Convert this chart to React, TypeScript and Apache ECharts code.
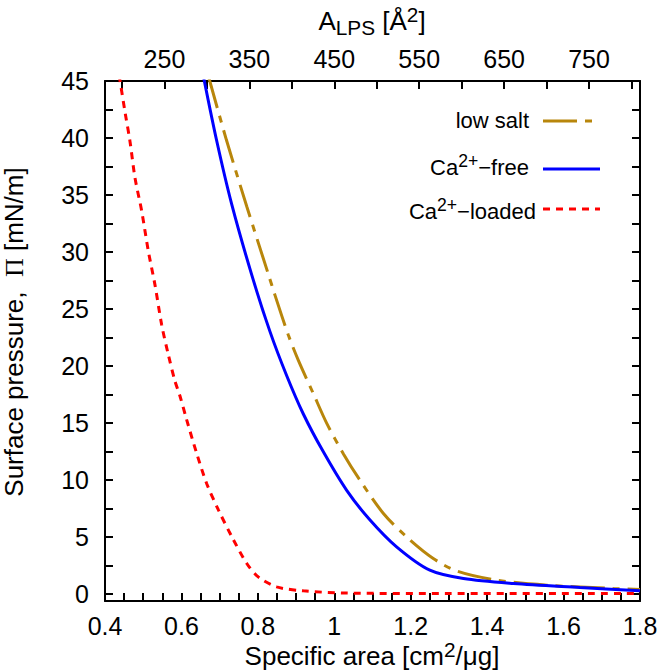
import React, { useEffect, useRef } from "react";
import * as echarts from "echarts";

// ---- data ----
const xLabelValues = [0.4, 0.6, 0.8, 1.0, 1.2, 1.4, 1.6, 1.8];
const xTickValues = [
  0.4, 0.45, 0.5, 0.55, 0.6, 0.65, 0.7, 0.75, 0.8, 0.85, 0.9, 0.95, 1.0, 1.05, 1.1, 1.15,
  1.2, 1.25, 1.3, 1.35, 1.4, 1.45, 1.5, 1.55, 1.6, 1.65, 1.7, 1.75, 1.8,
];
const yLabelValues = [0, 5, 10, 15, 20, 25, 30, 35, 40, 45];
const yTickValues = [
  0, 2.5, 5, 7.5, 10, 12.5, 15, 17.5, 20, 22.5, 25, 27.5, 30, 32.5, 35, 37.5, 40, 42.5, 45,
];
const topLabelValues = [250, 350, 450, 550, 650, 750];
const topTickValues = [200, 250, 300, 350, 400, 450, 500, 550, 600, 650, 700, 750, 800];

const seriesNames = ["low salt", "Ca2+-free", "Ca2+-loaded"];

const lowSalt: [number, number][] = [
  [0.670, 45.5], [0.718, 39.8], [0.771, 34.0], [0.827, 28.1], [0.845, 26.2],
  [0.880, 22.7], [0.906, 20.5], [0.945, 17.6], [0.980, 15.0], [1.024, 12.3],
  [1.067, 10.0], [1.128, 7.1], [1.190, 5.0], [1.259, 3.13], [1.320, 2.04],
  [1.425, 1.23], [1.556, 0.79], [1.730, 0.50], [1.800, 0.41],
];

const caFree: [number, number][] = [
  [0.657, 45.5], [0.692, 39.8], [0.7315, 34.2], [0.784, 28.0], [0.832, 23.0],
  [0.875, 19.2], [0.919, 15.8], [0.971, 12.5], [1.0325, 9.1], [1.0935, 6.5],
  [1.163, 4.15], [1.250, 2.1], [1.338, 1.37], [1.469, 0.94], [1.643, 0.59],
  [1.800, 0.29],
];

const caLoaded: [number, number][] = [
  [0.437, 45.5], [0.4523, 42.3], [0.4654, 39.7], [0.4785, 36.5], [0.496, 33.6],
  [0.5133, 30.1], [0.5309, 27.1], [0.5484, 23.6], [0.5657, 21.0], [0.583, 18.7],
  [0.596, 17.4], [0.614, 15.26], [0.640, 12.34], [0.666, 9.71], [0.697, 7.37],
  [0.732, 5.03], [0.771, 2.69], [0.801, 1.52], [0.849, 0.64], [0.919, 0.29],
  [1.030, 0.10], [1.300, 0.05], [1.800, 0.05],
];

const FONT = "'Liberation Sans', Arial, Helvetica, sans-serif";
const GOLD = "#b8860b";
const BLUE = "#0000ff";
const RED = "#ff0000";
const GOLD_DASH = [34, 8, 7, 8];
const RED_DASH = [7, 6];

const TICK_FS = 25;
const TITLE_FS = 26;
const LEG_FS = 22;

export default function App() {
  const ref = useRef<HTMLDivElement | null>(null);

  useEffect(() => {
    document.body.style.margin = "0";
    if (!ref.current) return;
    const chart = echarts.init(ref.current, undefined, { renderer: "svg" });

    const titleRich = {
      n: { fontSize: TITLE_FS, fontFamily: FONT, fill: "#000", lineHeight: 34, verticalAlign: "middle" },
      sup: { fontSize: TITLE_FS * 0.8, fontFamily: FONT, fill: "#000", lineHeight: 18, verticalAlign: "top" },
      sub: { fontSize: TITLE_FS * 0.8, fontFamily: FONT, fill: "#000", lineHeight: 18, verticalAlign: "bottom" },
      pi: { fontSize: TITLE_FS, fontFamily: "'Liberation Serif', 'DejaVu Serif', serif", fill: "#000", lineHeight: 34, verticalAlign: "middle" },
    };
    const legRich = {
      n: { fontSize: LEG_FS, fontFamily: FONT, fill: "#000", lineHeight: 30, verticalAlign: "middle" },
      sup: { fontSize: LEG_FS * 0.8, fontFamily: FONT, fill: "#000", lineHeight: 19, verticalAlign: "top" },
    };

    const legendItems = [
      { text: "{n|low salt}", x: 529, y: 120, lineY: 121, color: GOLD, dash: GOLD_DASH },
      { text: "{n|Ca}{sup|2+}{n|\u2212free}", x: 529, y: 167, lineY: 169, color: BLUE, dash: null },
      { text: "{n|Ca}{sup|2+}{n|\u2212loaded}", x: 536, y: 211, lineY: 209, color: RED, dash: RED_DASH },
    ];

    const graphics: any[] = [];
    legendItems.forEach((it) => {
      graphics.push({
        type: "text",
        x: it.x,
        y: it.y,
        style: { text: it.text, rich: legRich, align: "right", verticalAlign: "middle" },
      });
      graphics.push({
        type: "line",
        shape: { x1: 543, y1: it.lineY, x2: 600, y2: it.lineY },
        style: { stroke: it.color, lineWidth: 3, lineDash: it.dash || undefined },
      });
    });

    graphics.push({
      type: "text",
      x: 372,
      y: 21,
      style: { text: "{n|A}{sub|LPS}{n| [\u00c5}{sup|2}{n|]}", rich: titleRich, align: "center", verticalAlign: "middle" },
    });
    graphics.push({
      type: "text",
      x: 372,
      y: 656,
      style: { text: "{n|Specific area [cm}{sup|2}{n|/\u03bcg]}", rich: titleRich, align: "center", verticalAlign: "middle" },
    });
    graphics.push({
      type: "text",
      x: 14,
      y: 332,
      rotation: Math.PI / 2,
      style: { text: "{n|Surface pressure,  }{pi|\u03a0}{n| [mN/m]}", rich: titleRich, align: "center", verticalAlign: "middle" },
    });

    const ax = (pos: string, min: number, max: number, ticks: number[], labels: number[] | null, margin = 12) => ({
      type: "value",
      min,
      max,
      position: pos,
      axisLine: { show: true, onZero: false, lineStyle: { color: "#000", width: 2 } },
      axisTick: { show: true, inside: true, length: 8, lineStyle: { color: "#000", width: 2 }, customValues: ticks },
      axisLabel: labels
        ? { show: true, fontSize: TICK_FS, color: "#000", fontFamily: FONT, margin, customValues: labels }
        : { show: false },
      splitLine: { show: false },
    });

    const option: any = {
      animation: false,
      grid: { left: 105, right: 21, top: 81, bottom: 71 },
      xAxis: [
        ax("bottom", 0.4, 1.8, xTickValues, xLabelValues, 12),
        ax("top", 180, 810, topTickValues, topLabelValues, 10),
      ],
      yAxis: [
        ax("left", -0.6, 45, yTickValues, yLabelValues, 16),
        ax("right", -0.6, 45, yTickValues, null),
      ],
      series: [
        {
          name: seriesNames[0], type: "line", data: lowSalt, showSymbol: false, smooth: 0.3,
          lineStyle: { color: GOLD, width: 3, type: GOLD_DASH },
        },
        {
          name: seriesNames[1], type: "line", data: caFree, showSymbol: false, smooth: 0.3,
          lineStyle: { color: BLUE, width: 3, type: "solid" },
        },
        {
          name: seriesNames[2], type: "line", data: caLoaded, showSymbol: false, smooth: 0.3,
          lineStyle: { color: RED, width: 3, type: RED_DASH },
        },
      ],
      graphic: graphics,
    };

    chart.setOption(option);
    return () => chart.dispose();
  }, []);

  return <div ref={ref} style={{ width: 661, height: 672, position: "absolute", left: 0, top: 0 }} />;
}
